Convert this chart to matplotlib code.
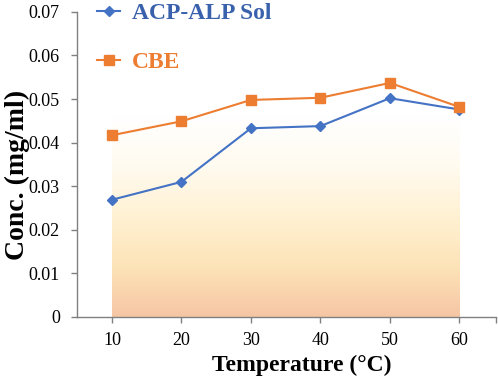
import matplotlib.pyplot as plt
import numpy as np
from matplotlib.colors import LinearSegmentedColormap

temps = [10, 20, 30, 40, 50, 60]
acp_alp = [0.0269, 0.0310, 0.0433, 0.0438, 0.0502, 0.0476]
cbe = [0.0417, 0.0449, 0.0498, 0.0503, 0.0537, 0.0482]
yticks = [0, 0.01, 0.02, 0.03, 0.04, 0.05, 0.06, 0.07]
ytick_labels = ['0', '0.01', '0.02', '0.03', '0.04', '0.05', '0.06', '0.07']

blue = '#4472C4'
orange = '#ED7D31'

plt.rcParams['font.family'] = 'Liberation Serif'

fig = plt.figure(figsize=(4.98, 3.79), dpi=100)
ax = fig.add_axes([0.155, 0.1636, 0.84, 0.805])

# background gradient behind the data
cmap = LinearSegmentedColormap.from_list('bg', ['#F6C6A4', '#FDE3B8', '#FFF1D2', '#FFFBF0', '#FFFFFF'])
grad = np.linspace(0, 1, 256).reshape(-1, 1)
ax.imshow(grad, cmap=cmap, origin='lower', aspect='auto',
          extent=[temps[0], temps[-1], 0, 0.046], zorder=0)

ax.plot(temps, acp_alp, color=blue, marker='D', markersize=5.5, linewidth=1.5, label='ACP-ALP Sol', zorder=3)
ax.plot(temps, cbe, color=orange, marker='s', markersize=7, linewidth=1.5, label='CBE', zorder=3)

ax.set_xlim(5, 65.2)
ax.set_ylim(0, 0.07)
ax.set_xticks(temps + [65.2])
ax.set_xticklabels([str(t) for t in temps] + [''], fontsize=13)
ax.set_yticks(yticks)
ax.set_yticklabels(ytick_labels, fontsize=13)
ax.tick_params(axis='both', direction='out', length=4.5, width=1, color='#808080')
ax.tick_params(axis='y', pad=8)
ax.tick_params(axis='x', pad=6)

for s in ['top', 'right']:
    ax.spines[s].set_visible(False)
for s in ['left', 'bottom']:
    ax.spines[s].set_color('#808080')
    ax.spines[s].set_linewidth(1)

ax.set_xlabel('Temperature (°C)', fontsize=17, fontweight='bold')
ax.set_ylabel('Conc. (mg/ml)', fontsize=20, fontweight='bold')
ax.xaxis.set_label_coords(0.538, -0.123)
ax.yaxis.set_label_coords(-0.112, 0.466)

leg = ax.legend(loc='upper left', bbox_to_anchor=(0.02, 1.068), frameon=False,
                prop={'size': 17, 'weight': 'bold'}, labelspacing=1.15, borderpad=0,
                handlelength=0.95, handletextpad=0.5)
for txt, c in zip(leg.get_texts(), ['#3A62AC', orange]):
    txt.set_color(c)

fig.savefig('out.png', dpi=100)
